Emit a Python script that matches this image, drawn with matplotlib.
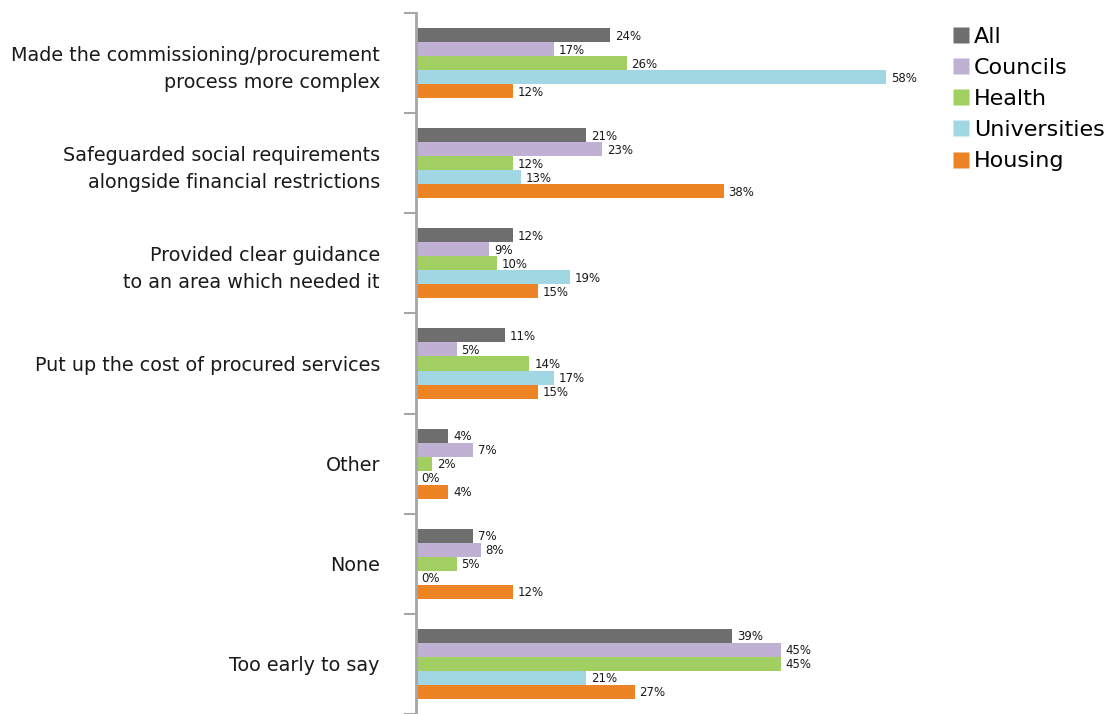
import numpy as np
import matplotlib.pyplot as plt
from matplotlib.lines import Line2D

categories = ["Made the commissioning/procurement\nprocess more complex",
              "Safeguarded social requirements\nalongside financial restrictions",
              "Provided clear guidance\nto an area which needed it",
              "Put up the cost of procured services",
              "Other",
              "None",
              "Too early to say"]
series = ["All", "Councils", "Health", "Universities", "Housing"]
all_vals = [24, 21, 12, 11, 4, 7, 39]
councils = [17, 23, 9, 5, 7, 8, 45]
health = [26, 12, 10, 14, 2, 5, 45]
universities = [58, 13, 19, 17, 0, 0, 21]
housing = [12, 38, 15, 15, 4, 12, 27]
colors = ["#6d6e6d", "#c0b1d4", "#a1cf62", "#a1d6e3", "#ec8424"]

data = [all_vals, councils, health, universities, housing]

fig = plt.figure(figsize=(11.09, 7.14), dpi=100)
ax = fig.add_axes([416/1109, 0, 486/1109, 1 - 13/714])

bh = 0.14
y = np.arange(len(categories))
for i, (vals, col) in enumerate(zip(data, colors)):
    pos = y - 0.35 + bh/2 + bh*i
    ax.barh(pos, vals, height=bh, color=col, edgecolor='none')
    for p, v in zip(pos, vals):
        ax.text(v + 0.6, p + 0.01, f"{v}%", va='center', ha='left',
                fontsize=8.5, color='#1a1a1a')

ax.set_xlim(0, 60)
ax.set_ylim(len(categories) - 0.5, -0.5)

for s in ['top', 'right', 'bottom']:
    ax.spines[s].set_visible(False)
ax.spines['left'].set_color('#a6a6a6')
ax.spines['left'].set_linewidth(2)
ax.set_xticks([])

ax.set_yticks(np.arange(len(categories) + 1) - 0.5)
ax.set_yticklabels([])
ax.tick_params(axis='y', which='major', length=9, width=1.5, color='#a6a6a6')
ax.set_yticks(y, minor=True)
ax.set_yticklabels(categories, minor=True, fontsize=13.8, color='#1a1a1a',
                   ha='right', linespacing=1.5)
ax.tick_params(axis='y', which='minor', length=0, pad=26)

handles = [Line2D([], [], marker='s', linestyle='none', markersize=11,
                  markerfacecolor=c, markeredgecolor='none') for c in colors]
fig.legend(handles, series, loc='upper left', bbox_to_anchor=(944/1109, 1 - 18/714),
           frameon=False, fontsize=16, handlelength=0.75, handletextpad=0.2,
           labelspacing=0.5, borderaxespad=0)

fig.savefig("out.png", dpi=100)
